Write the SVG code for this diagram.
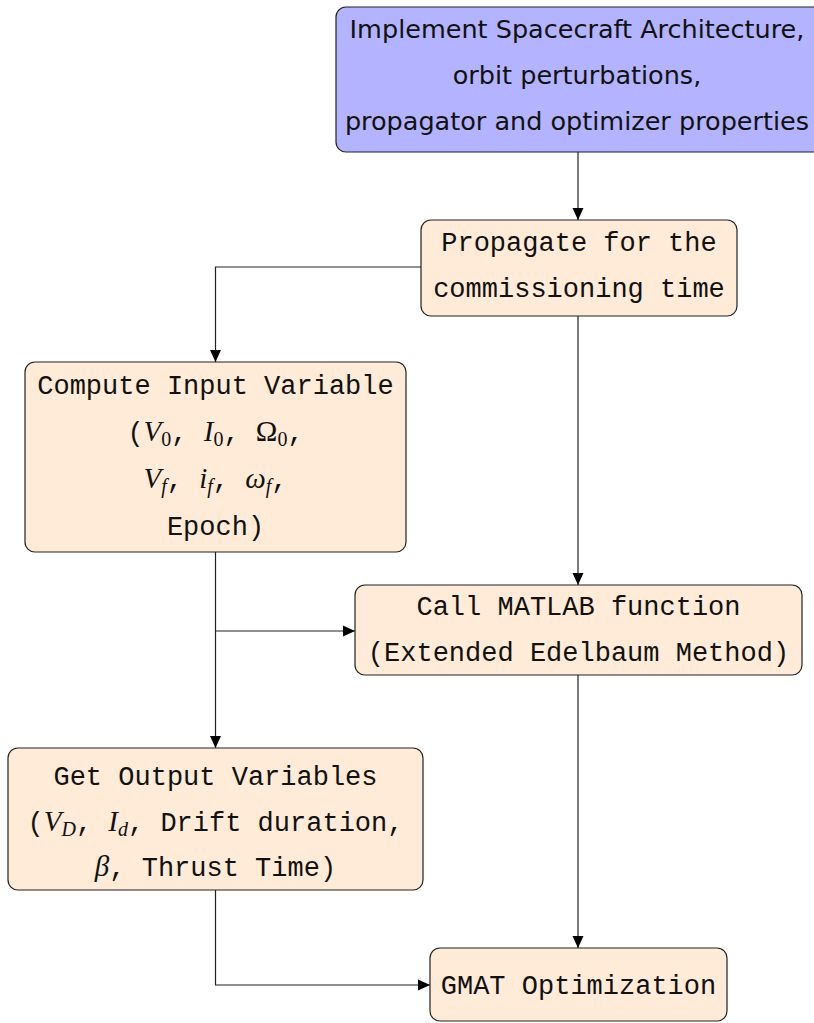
<svg xmlns="http://www.w3.org/2000/svg" width="814" height="1023" viewBox="0 0 814 1023">
<style>
.box{fill:#FFEBD7;stroke:#222;stroke-width:1.2}
.blue{fill:#B3B3FF;stroke:#222;stroke-width:1.2}
.sans{font-family:"DejaVu Sans",sans-serif;font-size:25.5px;fill:#111;text-anchor:middle}
.mono{font-family:"Liberation Mono","DejaVu Sans Mono",monospace;font-size:27px;fill:#111;text-anchor:middle}
.mi{font-family:"Liberation Serif",serif;font-style:italic;font-size:29px}
.rm{font-family:"Liberation Serif",serif;font-size:29px}
.sub{font-family:"Liberation Serif",serif;font-size:20px}
.subi{font-family:"Liberation Serif",serif;font-style:italic;font-size:20px}
.conn{fill:none;stroke:#222;stroke-width:1.2}
</style>
<defs>
<marker id="arr" markerUnits="userSpaceOnUse" markerWidth="12" markerHeight="12" refX="12" refY="6" orient="auto">
<path d="M0,0.5 L12,6 L0,11.5 z" fill="#000"/>
</marker>
</defs>
<g id="connectors">
<path class="conn" d="M578,152 V220" marker-end="url(#arr)"/>
<path class="conn" d="M421,267 H215.5 V362" marker-end="url(#arr)"/>
<path class="conn" d="M578,316 V585" marker-end="url(#arr)"/>
<path class="conn" d="M215.5,552 V748" marker-end="url(#arr)"/>
<path class="conn" d="M215.5,631 H355" marker-end="url(#arr)"/>
<path class="conn" d="M578,675 V948" marker-end="url(#arr)"/>
<path class="conn" d="M215.5,890 V985 H430" marker-end="url(#arr)"/>
</g>
<g id="node-implement">
<rect class="blue" x="336" y="7" width="495" height="145" rx="10"/>
<text class="sans" x="577" y="38">Implement Spacecraft Architecture,</text>
<text class="sans" x="577" y="84">orbit perturbations,</text>
<text class="sans" x="577" y="130">propagator and optimizer properties</text>
</g>
<g id="node-propagate">
<rect class="box" x="421" y="220" width="316" height="96" rx="10"/>
<text class="mono" x="579" y="251">Propagate for the</text>
<text class="mono" x="579" y="297">commissioning time</text>
</g>
<g id="node-compute">
<rect class="box" x="25" y="362" width="381" height="190" rx="10"/>
<text class="mono" x="215.5" y="394">Compute Input Variable</text>
<text class="mono" x="215.5" y="441">(<tspan class="mi">V</tspan><tspan class="sub" dy="5">0</tspan><tspan dy="-5">, </tspan><tspan class="mi">I</tspan><tspan class="sub" dy="5">0</tspan><tspan dy="-5">, </tspan><tspan class="rm">Ω</tspan><tspan class="sub" dy="5">0</tspan><tspan dy="-5">,</tspan></text>
<text class="mono" x="215.5" y="488"><tspan class="mi">V</tspan><tspan class="subi" dy="5">f</tspan><tspan dy="-5">, </tspan><tspan class="mi">i</tspan><tspan class="subi" dy="5">f</tspan><tspan dy="-5">, </tspan><tspan class="mi">ω</tspan><tspan class="subi" dy="5">f</tspan><tspan dy="-5">,</tspan></text>
<text class="mono" x="215.5" y="535">Epoch)</text>
</g>
<g id="node-call">
<rect class="box" x="355" y="585" width="447" height="90" rx="10"/>
<text class="mono" x="578.5" y="615">Call MATLAB function</text>
<text class="mono" x="578.5" y="661">(Extended Edelbaum Method)</text>
</g>
<g id="node-output">
<rect class="box" x="8" y="748" width="415" height="142" rx="10"/>
<text class="mono" x="215.5" y="785">Get Output Variables</text>
<text class="mono" x="215.5" y="831">(<tspan class="mi">V</tspan><tspan class="subi" dy="5">D</tspan><tspan dy="-5">, </tspan><tspan class="mi">I</tspan><tspan class="subi" dy="5">d</tspan><tspan dy="-5">, Drift duration,</tspan></text>
<text class="mono" x="215.5" y="876"><tspan class="mi">β</tspan>, Thrust Time)</text>
</g>
<g id="node-gmat">
<rect class="box" x="430" y="948" width="297" height="73" rx="10"/>
<text class="mono" x="578.5" y="994">GMAT Optimization</text>
</g>
</svg>
